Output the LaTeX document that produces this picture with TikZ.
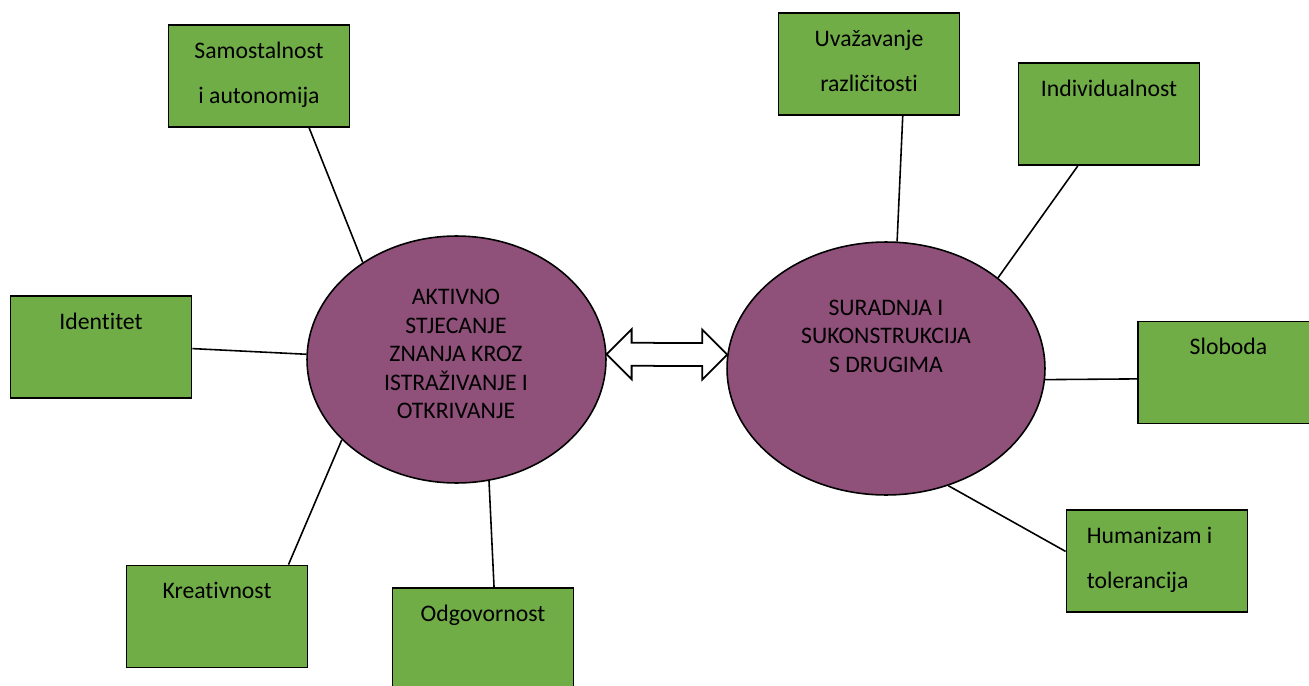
\documentclass[tikz,border=0pt]{standalone}
\usepackage{fontspec}
\setmainfont[Ligatures={NoCommon}]{Carlito}
\usepackage{xcolor}
\usetikzlibrary{calc}
\usetikzlibrary{shapes.geometric}
\definecolor{boxgreen}{HTML}{70AD47}
\definecolor{bubblepurple}{HTML}{8F507A}

\begin{document}
\begin{tikzpicture}[x=0.02cm,y=-0.02cm,
  greenbox/.style={draw,line width=1.1pt,fill=boxgreen,minimum width=3.62cm,minimum height=2.04cm,inner sep=0pt},
  boxtext/.style={anchor=north,inner sep=0pt,align=center,font=\fontsize{13.5}{25.5}\selectfont,yshift=-0.05cm},
  bubble/.style={draw,line width=0.9pt,fill=bubblepurple,ellipse,inner sep=0pt},
  bubbletext/.style={inner sep=0pt,align=center,font=\fontsize{13.5}{16.2}\selectfont},
  link/.style={line width=0.9pt}]
  \useasboundingbox (0,0) rectangle (1309,686);
  \clip (0,0) rectangle (1309,686);

  % the two ellipses
  \node[bubble,minimum width=5.98cm,minimum height=4.94cm] (aktivno) at (456.5,359.5) {};
  \node[bubbletext] (aktivnotxt) at (456,354) {AKTIVNO\\STJECANJE\\ZNANJA KROZ\\ISTRAŽIVANJE I\\OTKRIVANJE};
  \node[bubble,minimum width=6.36cm,minimum height=5.06cm] (suradnja) at (886,368.5) {};
  \node[bubbletext] (suradnjatxt) at (886,336) {SURADNJA I\\SUKONSTRUKCIJA\\S DRUGIMA};

  % left boxes
  \node[greenbox] (samo) at (259,76) {};
  \node[boxtext] (samotxt) at (samo.north) {\strut Samostalnost\\i autonomija};
  \node[greenbox] (iden) at (101,347) {};
  \node[boxtext] (identxt) at (iden.north) {\strut Identitet};
  \node[greenbox] (krea) at (217,616.5) {};
  \node[boxtext] (kreatxt) at (krea.north) {\strut Kreativnost};
  \node[greenbox] (odg) at (483,639) {};
  \node[boxtext] (odgtxt) at (odg.north) {\strut Odgovornost};

  % right boxes
  \node[greenbox] (uva) at (869,64) {};
  \node[boxtext] (uvatxt) at (uva.north) {\strut Uvažavanje\\različitosti};
  \node[greenbox] (ind) at (1109,114) {};
  \node[boxtext] (indtxt) at (ind.north) {\strut Individualnost};
  \node[greenbox] (slo) at (1228.5,372.5) {};
  \node[boxtext] (slotxt) at (slo.north) {\strut Sloboda};
  \node[greenbox] (hum) at (1157,561) {};
  \node[boxtext,anchor=north west,align=left] (humtxt) at ([xshift=0.42cm]hum.north west) {\strut Humanizam i\\tolerancija};

  \draw[link] (samo.-46) -- (aktivno.134);
  \draw[link] (iden.-1) -- (aktivno.178);
  \draw[link] (krea.36) -- (aktivno.215);
  \draw[link] (odg.78) -- (aktivno.-75);
  \draw[link] (uva.-57) -- (suradnja.85);
  \draw[link] (ind.-121) -- (suradnja.39);
  \draw[link] (slo.184) -- (suradnja.-4);
  \draw[link] (hum.174) -- (suradnja.-62);

  % double arrow between the ellipses
  \coordinate (tipL) at (aktivno.2);
  \coordinate (tipR) at (suradnja.175);
  \draw[line width=1pt,fill=white] (tipL) -- ++(25,-25) -- ++(0,13.5) -- ($(tipR)+(-25,-11.5)$) -- ++(0,-13.5)
    -- (tipR) -- ++(-25,25) -- ++(0,-13.5) -- ($(tipL)+(25,11.5)$) -- ++(0,13.5) -- cycle;
\end{tikzpicture}
\end{document}
